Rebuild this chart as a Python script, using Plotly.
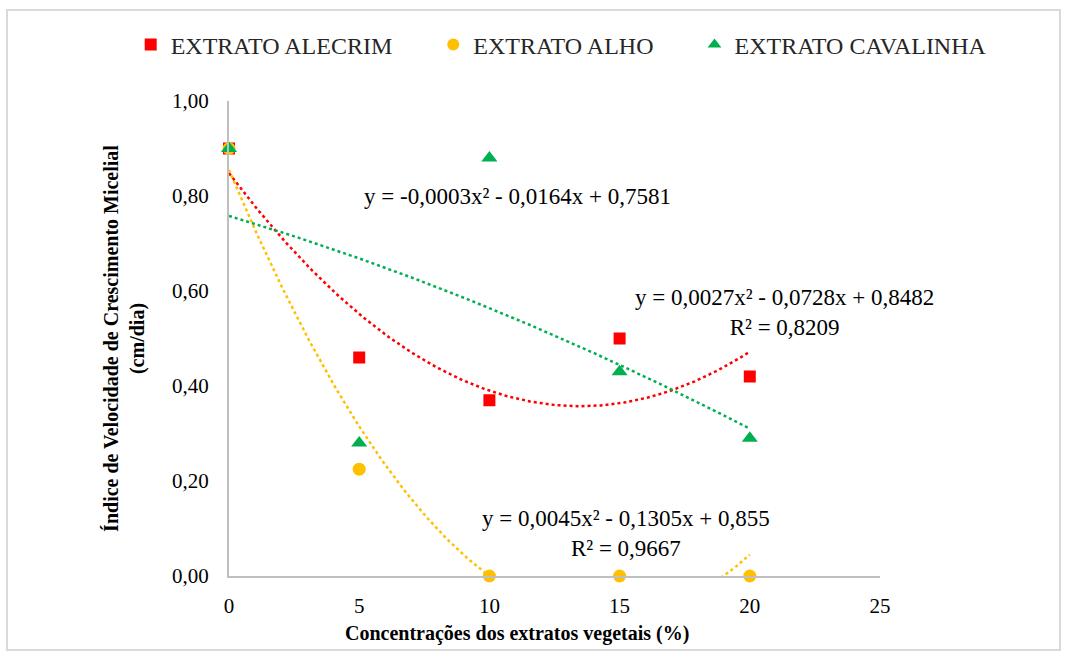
import numpy as np
import plotly.graph_objects as go

# Concentrations (%) of the plant extracts
concentracoes = [0, 5, 10, 15, 20]

# Mycelial growth speed index (cm/dia) per extract
alecrim = [0.90, 0.46, 0.37, 0.50, 0.42]
alho = [0.90, 0.225, 0.0, 0.0, 0.0]
cavalinha = [0.90, 0.28, 0.88, 0.43, 0.29]

# Polynomial trendline coefficients (a, b, c) for y = a*x^2 + b*x + c
coef_alecrim = [0.0027, -0.0728, 0.8482]
coef_alho = [0.0045, -0.1305, 0.855]
coef_cavalinha = [-0.0003, -0.0164, 0.7581]

FONT = "Liberation Serif, Times New Roman, serif"
RED, YELLOW, GREEN = "#FF0000", "#FFC000", "#00B050"
PAD = "\u00a0" * 6  # spacing between legend entries

fig = go.Figure()

xs = np.linspace(0, 20, 200)


def trend(coef):
    a, b, c = coef
    return a * xs**2 + b * xs + c


for coef, color in [(coef_alecrim, RED), (coef_alho, YELLOW), (coef_cavalinha, GREEN)]:
    fig.add_trace(go.Scatter(
        x=xs, y=trend(coef), mode="lines", showlegend=False, hoverinfo="skip",
        line=dict(color=color, width=2.5, dash="dot"),
    ))

fig.add_trace(go.Scatter(
    x=concentracoes, y=alecrim, mode="markers", name="EXTRATO ALECRIM" + PAD,
    marker=dict(symbol="square", size=12, color=RED), cliponaxis=False,
))
fig.add_trace(go.Scatter(
    x=concentracoes, y=alho, mode="markers", name="EXTRATO ALHO" + PAD,
    marker=dict(symbol="circle", size=13, color=YELLOW), cliponaxis=False,
))
fig.add_trace(go.Scatter(
    x=concentracoes, y=cavalinha, mode="markers", name="EXTRATO CAVALINHA",
    marker=dict(symbol="triangle-up", size=14, color=GREEN), cliponaxis=False,
))


def fmt(v, nd):
    return f"{abs(v):.{nd}f}".replace(".", ",")


def equation(coef, nd):
    a, b, c = coef
    sa = "-" if a < 0 else ""
    sb = "-" if b < 0 else "+"
    sc = "-" if c < 0 else "+"
    return f"y = {sa}{fmt(a, 4)}x² {sb} {fmt(b, 4)}x {sc} {fmt(c, nd)}"


eq_font = dict(family=FONT, size=23, color="#000000")
fig.add_annotation(x=11.06, y=0.798, text=equation(coef_cavalinha, 4),
                   showarrow=False, font=eq_font)
fig.add_annotation(x=21.35, y=0.555, text=equation(coef_alecrim, 4) + "<br>R² = 0,8209",
                   showarrow=False, font=eq_font)
fig.add_annotation(x=15.25, y=0.09, text=equation(coef_alho, 3) + "<br>R² = 0,9667",
                   showarrow=False, font=eq_font)

# x-axis title
fig.add_annotation(xref="paper", yref="paper", x=0.4424, y=-0.122,
                   xanchor="center", yanchor="middle",
                   text="<b>Concentrações dos extratos vegetais (%)</b>",
                   showarrow=False, font=dict(family=FONT, size=20, color="#000000"))

# outer chart border
fig.add_shape(type="rect", xref="paper", yref="paper",
              x0=-0.341, x1=1.2765, y0=-0.1558, y1=1.1916,
              line=dict(color="#D9D9D9", width=2), fillcolor="rgba(0,0,0,0)")

fig.update_layout(
    width=1066, height=655,
    margin=dict(l=229, r=186, t=101, b=79, autoexpand=False),
    paper_bgcolor="white", plot_bgcolor="white",
    font=dict(family=FONT, color="#000000"),
    legend=dict(orientation="h", x=-0.151, y=1.118, xanchor="left", yanchor="middle",
                bgcolor="rgba(0,0,0,0)",
                font=dict(family=FONT, size=24, color="#262626"),
                itemsizing="constant"),
    xaxis=dict(range=[0, 25], tickvals=[0, 5, 10, 15, 20, 25], showgrid=False,
               zeroline=False, showline=True, linecolor="#BFBFBF", linewidth=2,
               ticks="", ticklabelstandoff=10,
               tickfont=dict(family=FONT, size=21, color="#000000")),
    yaxis=dict(range=[0, 1.0], tickvals=[0, 0.2, 0.4, 0.6, 0.8, 1.0],
               ticktext=["0,00", "0,20", "0,40", "0,60", "0,80", "1,00"],
               showgrid=False, zeroline=False, showline=True, linecolor="#BFBFBF",
               linewidth=2, ticks="", ticklabelstandoff=14,
               tickfont=dict(family=FONT, size=21, color="#000000"),
               title=dict(text="<b>Índice de Velocidade de Crescimento Micelial<br>(cm/dia)</b>",
                          font=dict(family=FONT, size=20, color="#000000"), standoff=22)),
)

fig.write_html("out.html")
